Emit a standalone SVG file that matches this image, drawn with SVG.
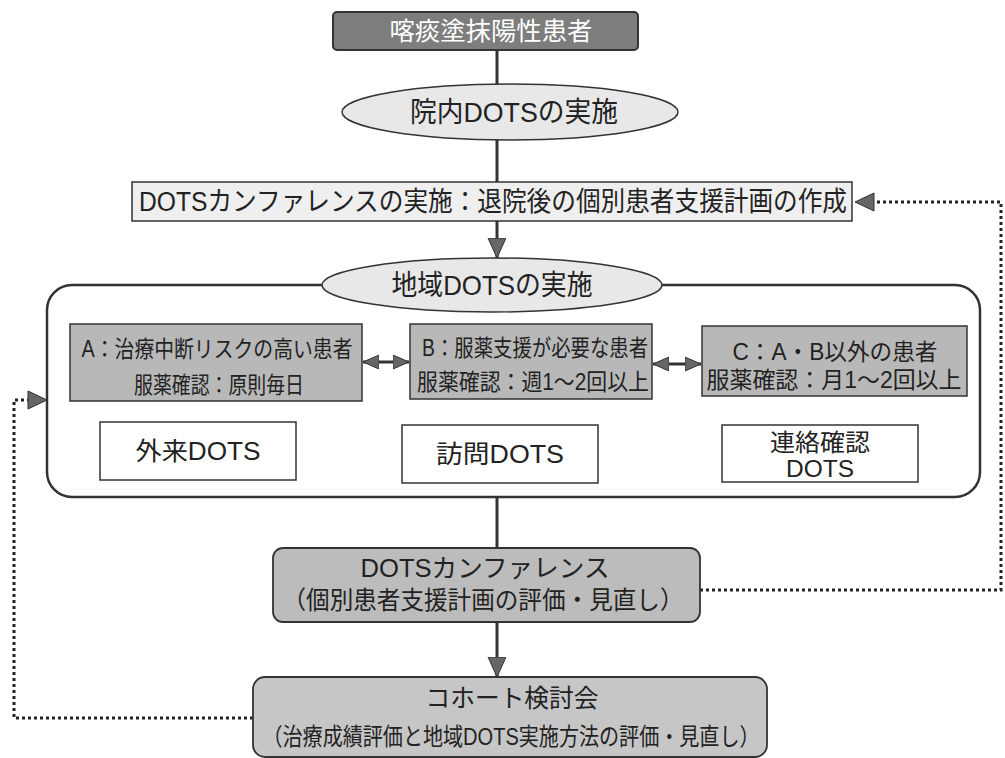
<svg xmlns="http://www.w3.org/2000/svg" width="1005" height="758" viewBox="0 0 1005 758">
<style>
text{font-family:"Liberation Sans","Noto Sans CJK JP",sans-serif;fill:#222;text-anchor:middle}
.dark{fill:#7d7d7d;stroke:#333;stroke-width:2}
.ell{fill:#e8e8e8;stroke:#333;stroke-width:1.5}
.light{fill:#efefef;stroke:#333;stroke-width:1.5}
.cat{fill:#b8b8b8;stroke:#333;stroke-width:1.5}
.plain{fill:#fff;stroke:#333;stroke-width:1.5}
.meet{fill:#bcbcbc;stroke:#333;stroke-width:1.8}
.line{stroke:#333;stroke-width:3;fill:none}
.dot{stroke:#222;stroke-width:3;fill:none;stroke-dasharray:3 3}
.head{fill:#666;stroke:#333;stroke-width:1}
</style>
<defs>
<marker id="arr" markerUnits="userSpaceOnUse" markerWidth="22" markerHeight="20" refX="20" refY="9" orient="auto">
<path d="M0,0 L20,9 L0,18 Z" class="head"/>
</marker>
<marker id="arrS" markerUnits="userSpaceOnUse" markerWidth="18" markerHeight="16" refX="16" refY="7" orient="auto-start-reverse">
<path d="M0,0 L16,7 L0,14 Z" class="head"/>
</marker>
</defs>
<g id="region-frame">
<rect x="47" y="285" width="933" height="212" rx="25" fill="#fff" stroke="#333" stroke-width="2.5"/>
</g>
<g id="connectors">
<line class="line" x1="497" y1="50" x2="497" y2="84"/>
<line class="line" x1="497" y1="140" x2="497" y2="182"/>
<line class="line" x1="497" y1="221" x2="497" y2="258" marker-end="url(#arr)"/>
<line class="line" x1="497" y1="497" x2="497" y2="548"/>
<line class="line" x1="497" y1="622" x2="497" y2="677" marker-end="url(#arr)"/>
<line class="line" x1="363" y1="362" x2="409" y2="362" stroke-width="2" marker-start="url(#arrS)" marker-end="url(#arrS)"/>
<line class="line" x1="653" y1="364" x2="701" y2="364" stroke-width="2" marker-start="url(#arrS)" marker-end="url(#arrS)"/>
<path class="dot" d="M700,590 H1001 V202 H872"/>
<path class="head" d="M855,202 L874,193 L874,211 Z"/>
<path class="dot" d="M253,718 H14 V400 H29"/>
<path class="head" d="M47,400 L28,391 L28,409 Z"/>
</g>
<g id="patient">
<rect class="dark" x="333" y="12" width="305" height="38" rx="4"/>
<text x="491" y="40" font-size="25" textLength="203" lengthAdjust="spacingAndGlyphs" style="fill:#fff">喀痰塗抹陽性患者</text>
</g>
<g id="hospital-dots">
<ellipse class="ell" cx="510" cy="112" rx="168" ry="28"/>
<text x="514" y="122" font-size="28" textLength="208" lengthAdjust="spacingAndGlyphs">院内DOTSの実施</text>
</g>
<g id="conference-plan">
<rect class="light" x="132" y="182" width="720" height="39"/>
<text x="493" y="211" font-size="27" textLength="708" lengthAdjust="spacingAndGlyphs">DOTSカンファレンスの実施：退院後の個別患者支援計画の作成</text>
</g>
<g id="community-dots">
<ellipse class="ell" cx="492" cy="285" rx="170" ry="27"/>
<text x="492" y="295" font-size="28" textLength="201" lengthAdjust="spacingAndGlyphs">地域DOTSの実施</text>
</g>
<g id="cat-a">
<rect class="cat" x="70" y="324" width="292" height="77"/>
<text x="217" y="357" font-size="23" textLength="271" lengthAdjust="spacingAndGlyphs">A：治療中断リスクの高い患者</text>
<text x="219" y="393" font-size="23" textLength="170" lengthAdjust="spacingAndGlyphs">服薬確認：原則毎日</text>
</g>
<g id="cat-b">
<rect class="cat" x="410" y="324" width="242" height="75"/>
<text x="535" y="356" font-size="23" textLength="226" lengthAdjust="spacingAndGlyphs">B：服薬支援が必要な患者</text>
<text x="533" y="390" font-size="23" textLength="232" lengthAdjust="spacingAndGlyphs">服薬確認：週1～2回以上</text>
</g>
<g id="cat-c">
<rect class="cat" x="702" y="326" width="265" height="70"/>
<text x="835" y="360" font-size="23" textLength="205" lengthAdjust="spacingAndGlyphs">C：A・B以外の患者</text>
<text x="834" y="388" font-size="23" textLength="255" lengthAdjust="spacingAndGlyphs">服薬確認：月1～2回以上</text>
</g>
<g id="outpatient-dots">
<rect class="plain" x="100" y="422" width="196" height="58"/>
<text x="198" y="460" font-size="25" textLength="125" lengthAdjust="spacingAndGlyphs">外来DOTS</text>
</g>
<g id="visit-dots">
<rect class="plain" x="402" y="425" width="196" height="58"/>
<text x="500" y="463" font-size="25" textLength="128" lengthAdjust="spacingAndGlyphs">訪問DOTS</text>
</g>
<g id="contact-dots">
<rect class="plain" x="722" y="425" width="196" height="57"/>
<text x="820" y="451" font-size="24" textLength="100" lengthAdjust="spacingAndGlyphs">連絡確認</text>
<text x="820" y="477" font-size="24" textLength="68" lengthAdjust="spacingAndGlyphs">DOTS</text>
</g>
<g id="dots-conference">
<rect class="meet" x="273" y="548" width="427" height="74" rx="10"/>
<text x="485" y="577" font-size="25" textLength="249" lengthAdjust="spacingAndGlyphs">DOTSカンファレンス</text>
<text x="483" y="609" font-size="25" textLength="401" lengthAdjust="spacingAndGlyphs">（個別患者支援計画の評価・見直し）</text>
</g>
<g id="cohort">
<rect class="meet" x="253" y="677" width="514" height="80" rx="12" style="fill:#c6c6c6"/>
<text x="512" y="707" font-size="25" textLength="173" lengthAdjust="spacingAndGlyphs">コホート検討会</text>
<text x="511" y="745" font-size="24" textLength="497" lengthAdjust="spacingAndGlyphs">（治療成績評価と地域DOTS実施方法の評価・見直し）</text>
</g>
</svg>
